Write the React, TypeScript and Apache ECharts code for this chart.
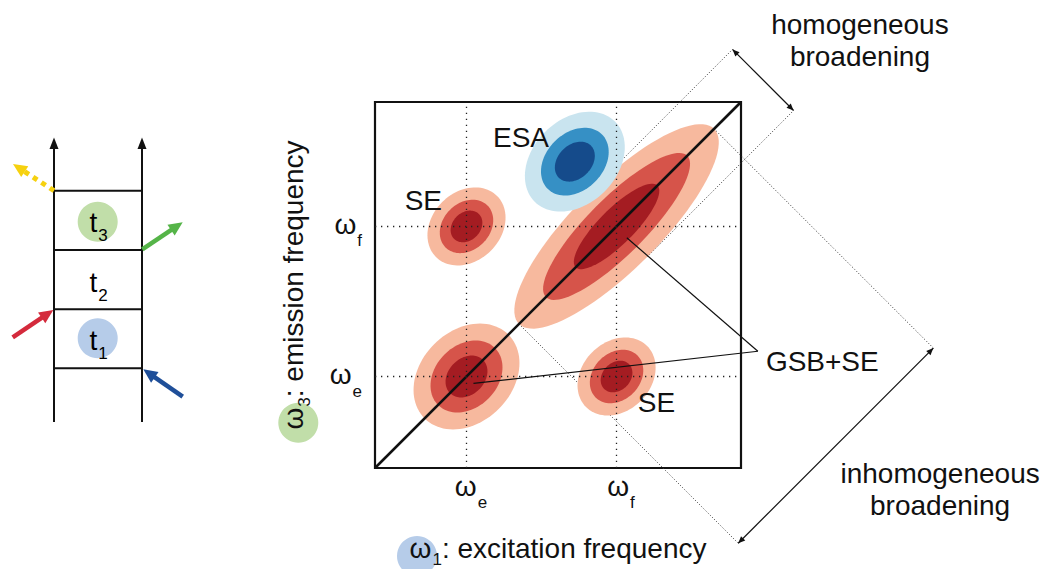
import React, { useEffect, useRef } from "react";
import * as echarts from "echarts";

const FONT = '"Liberation Sans", Arial, Helvetica, sans-serif';
const INK = "#111111";

// ---- axis ticks (ω_e and ω_f), in % of the axis range ----
const tickValues = [25, 66];
const tickSubs = ["e", "f"];

// ---- 2D peaks: centre (ω1, ω3), semi-axes along / across the diagonal ----
const peakNames = ["GSB+SE (ωe,ωe)", "GSB+SE (ωf,ωf)", "SE (ωe,ωf)", "SE (ωf,ωe)", "ESA"];
const peakX = [25, 66, 25, 66, 54.6];
const peakY = [25, 66, 66, 25, 83.7];
const peakSign = [1, 1, 1, 1, -1];
const outerA = [16.2, 37.7, 11.8, 11.8, 15.5];
const outerB = [12.5, 11.8, 9.4, 9.4, 11.5];
const middleA = [11.0, 27.3, 8.1, 8.1, 10.5];
const middleB = [8.5, 7.8, 6.4, 6.4, 7.8];
const innerA = [6.4, 15.8, 4.8, 4.8, 6.2];
const innerB = [4.95, 4.8, 3.8, 3.8, 4.6];
const redShades = ["#f7b99e", "#d6544a", "#a41c22"];
const blueShades = ["#c9e4ef", "#3690c5", "#154b8b"];

// ---- annotations ----
const labelTexts = ["ESA", "SE", "SE", "GSB+SE", "homogeneous\nbroadening", "inhomogeneous\nbroadening"];
const labelX = [39.9, 13.2, 76.9, 106.8, 132.5, 154.4];
const labelY = [90.4, 73.1, 17.8, 29.2, 116.7, -5.9];
const labelAlign = ["center", "center", "center", "left", "center", "center"];

const leaderStartX = [68.8, 26.9];
const leaderStartY = [62.9, 23.1];
const leaderEnd = [104.6, 31.9];

// broadening guides around the main diagonal peak
const mainPeak = 1;
const inhomOffset = 84.7;
const homOffset = 56.6;

const R2 = Math.SQRT1_2;

const ellipseData: number[][] = [];
peakX.forEach((x, i) => {
  const As = [outerA, middleA, innerA];
  const Bs = [outerB, middleB, innerB];
  for (let lvl = 0; lvl < 3; lvl++) {
    ellipseData.push([x, peakY[i], As[lvl][i], Bs[lvl][i], lvl, peakSign[i]]);
  }
});

function head(tip: number[], from: number[], L: number, W: number) {
  const dx = tip[0] - from[0];
  const dy = tip[1] - from[1];
  const len = Math.hypot(dx, dy) || 1;
  const ux = dx / len;
  const uy = dy / len;
  const bx = tip[0] - ux * L;
  const by = tip[1] - uy * L;
  return [
    [tip[0], tip[1]],
    [bx - uy * W, by + ux * W],
    [bx + uy * W, by - ux * W],
  ];
}

const subRich = (size: number, drop = 22, subLH = 17) => ({
  w: { fontSize: size, fontFamily: FONT, color: INK, lineHeight: 32, verticalAlign: "top" },
  wx: { fontSize: size, fontFamily: FONT, color: INK, lineHeight: 32, verticalAlign: "top", padding: [0, 0, 0, 9] },
  t: { fontSize: size, fontFamily: FONT, color: INK, lineHeight: 32, verticalAlign: "top" },
  s: { fontSize: 17, fontFamily: FONT, color: INK, lineHeight: subLH, verticalAlign: "top", padding: [drop, 0, 0, 1] },
});

function ladderArrow(x1: number, y1: number, x2: number, y2: number, color: string, dashed: boolean) {
  const hp = head([x2, y2], [x1, y1], 14, 6.5);
  const len = Math.hypot(x2 - x1, y2 - y1);
  const k = (len - 11) / len;
  return [
    {
      type: "line",
      shape: { x1, y1, x2: x1 + (x2 - x1) * k, y2: y1 + (y2 - y1) * k },
      style: dashed
        ? { stroke: color, lineWidth: 5, lineDash: [5, 5] }
        : { stroke: color, lineWidth: 4.5 },
    },
    { type: "polygon", shape: { points: hp }, style: { fill: color } },
  ];
}

function ladderText(x: number, y: number, sub: string) {
  return {
    type: "text",
    x,
    y,
    z: 5,
    style: {
      text: `{t|t}{s|${sub}}`,
      align: "center",
      verticalAlign: "middle",
      rich: subRich(28, 19),
    },
  };
}

const graphicEls: any[] = [
  // ladder rails
  { type: "line", shape: { x1: 54, y1: 422, x2: 54, y2: 146 }, style: { stroke: INK, lineWidth: 2 } },
  { type: "line", shape: { x1: 142, y1: 422, x2: 142, y2: 146 }, style: { stroke: INK, lineWidth: 2 } },
  { type: "polygon", shape: { points: [[54, 137.5], [49.5, 149], [58.5, 149]] }, style: { fill: INK } },
  { type: "polygon", shape: { points: [[142, 137.5], [137.5, 149], [146.5, 149]] }, style: { fill: INK } },
  ...[190.7, 250, 309.3, 368.3].map((y) => ({
    type: "line",
    shape: { x1: 54, y1: y, x2: 142, y2: y },
    style: { stroke: INK, lineWidth: 2 },
  })),
  { type: "circle", shape: { cx: 97.7, cy: 221.7, r: 20 }, style: { fill: "#c1dea9" } },
  { type: "circle", shape: { cx: 97.7, cy: 338.3, r: 20 }, style: { fill: "#b6cce9" } },
  ladderText(98.5, 224, "3"),
  ladderText(98.5, 284, "2"),
  ladderText(98.5, 342, "1"),
  ...ladderArrow(54, 190.7, 13, 164, "#f6d10f", true),
  ...ladderArrow(12.7, 337.3, 53.3, 310, "#d42a3c", false),
  ...ladderArrow(142.3, 249.3, 182.7, 222.3, "#55b448", false),
  ...ladderArrow(182.7, 396.7, 143.3, 369.3, "#1f4f99", false),
  // circles behind ω1 / ω3 of the axis titles
  { type: "circle", shape: { cx: 417, cy: 556, r: 20 }, style: { fill: "#b6cce9" } },
  { type: "circle", shape: { cx: 298.3, cy: 422.7, r: 20 }, style: { fill: "#c1dea9" } },
];

const option: any = {
  animation: false,
  backgroundColor: "#ffffff",
  grid: {
    left: 375,
    top: 102,
    width: 366,
    height: 366,
    show: true,
    borderColor: INK,
    borderWidth: 2.2,
    backgroundColor: "transparent",
    containLabel: false,
    outerBoundsMode: "none",
  },
  xAxis: {
    type: "value",
    min: 0,
    max: 100,
    z: 10,
    axisLine: { show: false },
    axisTick: { show: false },
    splitLine: { show: false },
    axisLabel: {
      customValues: tickValues,
      margin: 4,
      formatter: (v: number) => `{wx|ω}{s|${tickSubs[tickValues.indexOf(v)] ?? ""}}`,
      rich: subRich(28),
    },
    name: "{w|ω}{s|1}{t|: excitation frequency}",
    nameLocation: "middle",
    nameGap: 66,
    nameTextStyle: { rich: subRich(28, 17, 15) },
  },
  yAxis: {
    type: "value",
    min: 0,
    max: 100,
    z: 10,
    axisLine: { show: false },
    axisTick: { show: false },
    splitLine: { show: false },
    axisLabel: {
      customValues: tickValues,
      margin: 13,
      formatter: (v: number) => `{w|ω}{s|${tickSubs[tickValues.indexOf(v)] ?? ""}}`,
      rich: subRich(28),
    },
    name: "{w|ω}{s|3}{t|: emission frequency}",
    nameLocation: "middle",
    nameRotate: 90,
    nameGap: 64,
    nameTextStyle: { rich: subRich(28, 17, 15) },
  },
  graphic: graphicEls,
  series: [
    {
      name: "broadening guides",
      type: "custom",
      coordinateSystem: "cartesian2d",
      clip: false,
      silent: true,
      z: 1,
      data: [[peakX[mainPeak], peakY[mainPeak], outerA[mainPeak], outerB[mainPeak]]],
      renderItem: (_p: any, api: any) => {
        const cx = api.value(0);
        const cy = api.value(1);
        const A = api.value(2);
        const B = api.value(3);
        const pt = (u: number, v: number) => api.coord([cx + (u + v) * R2, cy + (u - v) * R2]);
        const dotted = { stroke: "#333", lineWidth: 1, lineDash: [1, 2] };
        const solid = { stroke: INK, lineWidth: 1.2 };
        const seg = (a: number[], b: number[], style: any) => ({
          type: "line",
          shape: { x1: a[0], y1: a[1], x2: b[0], y2: b[1] },
          style,
        });
        const i1 = pt(A, inhomOffset);
        const i2 = pt(-A, inhomOffset);
        const h1 = pt(homOffset, -B);
        const h2 = pt(homOffset, B);
        return {
          type: "group",
          children: [
            seg(pt(A, 0), i1, dotted),
            seg(pt(-A, 0), i2, dotted),
            seg(pt(0, -B), h1, dotted),
            seg(pt(0, B), h2, dotted),
            seg(i1, i2, solid),
            seg(h1, h2, solid),
            { type: "polygon", shape: { points: head(i1, i2, 7, 3) }, style: { fill: INK } },
            { type: "polygon", shape: { points: head(i2, i1, 7, 3) }, style: { fill: INK } },
            { type: "polygon", shape: { points: head(h1, h2, 7, 3) }, style: { fill: INK } },
            { type: "polygon", shape: { points: head(h2, h1, 7, 3) }, style: { fill: INK } },
          ],
        };
      },
    },
    {
      name: "2D spectrum",
      type: "custom",
      coordinateSystem: "cartesian2d",
      clip: false,
      silent: true,
      z: 2,
      data: ellipseData,
      renderItem: (_p: any, api: any) => {
        const cx = api.value(0);
        const cy = api.value(1);
        const A = api.value(2);
        const B = api.value(3);
        const lvl = api.value(4);
        const sg = api.value(5);
        const pts: number[][] = [];
        const N = 96;
        for (let k = 0; k < N; k++) {
          const t = (2 * Math.PI * k) / N;
          const du = A * Math.cos(t);
          const dv = B * Math.sin(t);
          pts.push(api.coord([cx + (du + dv) * R2, cy + (du - dv) * R2]));
        }
        return {
          type: "polygon",
          shape: { points: pts },
          style: { fill: (sg > 0 ? redShades : blueShades)[lvl] },
        };
      },
    },
    {
      name: "diagonal",
      type: "line",
      data: [
        [0, 0],
        [100, 100],
      ],
      showSymbol: false,
      symbol: "none",
      silent: true,
      z: 4,
      lineStyle: { color: INK, width: 2.6 },
      markLine: {
        silent: true,
        symbol: ["none", "none"],
        label: { show: false },
        lineStyle: { color: "#222", type: [1.3, 4.7], width: 1.3 },
        data: tickValues.flatMap((v) => [{ xAxis: v }, { yAxis: v }]),
      },
    },
    {
      name: "leaders",
      type: "custom",
      coordinateSystem: "cartesian2d",
      clip: false,
      silent: true,
      z: 6,
      data: leaderStartX.map((x, i) => [x, leaderStartY[i], leaderEnd[0], leaderEnd[1]]),
      renderItem: (_p: any, api: any) => {
        const a = api.coord([api.value(0), api.value(1)]);
        const b = api.coord([api.value(2), api.value(3)]);
        return {
          type: "line",
          shape: { x1: a[0], y1: a[1], x2: b[0], y2: b[1] },
          style: { stroke: INK, lineWidth: 1.2 },
        };
      },
    },
    {
      name: "labels",
      type: "custom",
      coordinateSystem: "cartesian2d",
      clip: false,
      silent: true,
      z: 7,
      data: labelX.map((x, i) => [x, labelY[i]]),
      renderItem: (p: any, api: any) => {
        const c = api.coord([api.value(0), api.value(1)]);
        return {
          type: "text",
          x: c[0],
          y: c[1],
          style: {
            text: labelTexts[p.dataIndex],
            fill: INK,
            fontSize: 28,
            fontFamily: FONT,
            lineHeight: 32,
            align: labelAlign[p.dataIndex],
            verticalAlign: "middle",
          },
        };
      },
    },
  ],
};

export default function App() {
  const ref = useRef<HTMLDivElement>(null);
  useEffect(() => {
    const chart = echarts.init(ref.current as HTMLDivElement, null, { renderer: "svg" });
    chart.setOption(option);
    return () => chart.dispose();
  }, []);
  return (
    <div
      ref={ref}
      style={{ position: "fixed", left: 0, top: 0, width: 1049, height: 569, background: "#fff" }}
    />
  );
}
